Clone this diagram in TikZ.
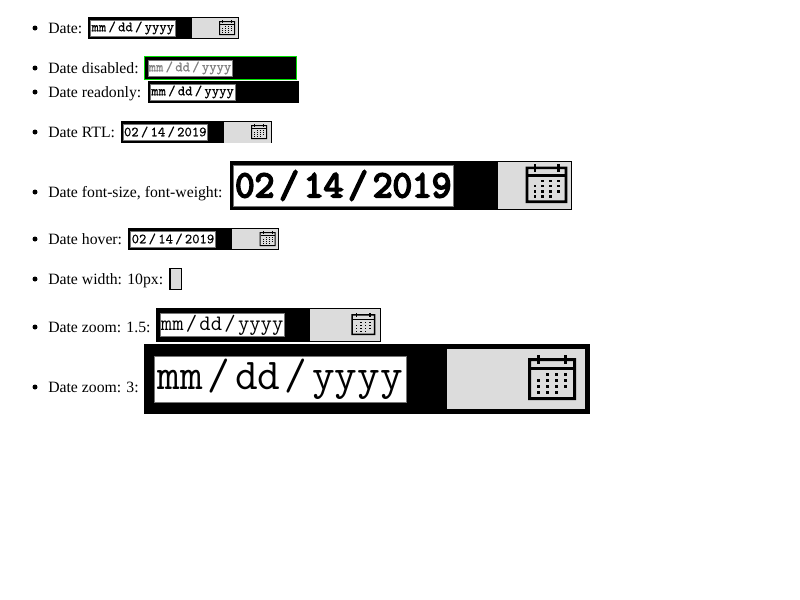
\documentclass[tikz,border=0pt]{standalone}
\usepackage{fontspec}
\setmainfont{Liberation Serif}
\newfontfamily\monoheavy[FakeBold=5]{Latin Modern Mono}
\newfontfamily\monosmall[FakeBold=0.5]{Latin Modern Mono}
\usepackage{tikz}
\usetikzlibrary{positioning}
\definecolor{btnfill}{HTML}{DCDCDC}
\definecolor{fieldline}{HTML}{767676}
\definecolor{focusring}{HTML}{00E000}
\definecolor{mutedtext}{HTML}{808080}
\def\px{0.75pt}

\begin{document}
\begin{tikzpicture}[
  x=0.75pt, y=-0.75pt,
  dim/.style 2 args={minimum width=#1*\px, minimum height=#2*\px},
  shell/.style={fill=black, inner sep=0pt, outer sep=0pt, anchor=north west},
  field/.style={fill=white, draw=fieldline, line width=0.4pt, inner sep=0pt, outer sep=0pt, anchor=north west, font=\monosmall\fontsize{10.5}{12}\selectfont, text=black},
  btn/.style={fill=btnfill, inner sep=0pt, outer sep=0pt, anchor=north west},
  lab/.style={anchor=base west, inner sep=0pt, font=\fontsize{11.8}{14}\selectfont},
  dot/.style={circle, fill=black, inner sep=0pt, minimum size=5*\px},
  calicon/.pic={
    \fill[black, even odd rule] (0,1) rectangle (16,15) (1,2) rectangle (15,14);
    \fill[black] (1,4) rectangle (15,5);
    \fill[black] (3,0) rectangle (4,3);
    \fill[black] (12,0) rectangle (13,3);
    \foreach \cx/\cy in {6/6,9/6,12/6,3/8,6/8,9/8,12/8,3/10,6/10,9/10,12/10,3/12,6/12,9/12}
      \fill[black] (\cx,\cy) rectangle ++(1,1);
  },
]
\useasboundingbox (0,0) rectangle (800,600);
% Date
\node[dot] (b1) at (35,28) {};
\node[lab] (l1) at (48,33) {Date:};
\node[shell, dim={151}{22}] (date) at (88,17) {};
\node[field, dim={85}{16}] (dateval) at (90.3,20) {mm\kern1.7pt/\kern1.7pt dd\kern1.7pt/\kern1.7pt yyyy};
\node[btn, dim={46}{20.5}] (datebtn) at (192,17.8) {};
\pic (datecal) at (219,20) {calicon};
% Disabled
\node[dot] (b2) at (35,68) {};
\node[lab] (l2) at (48,73) {Date disabled:};
\node[shell, draw=focusring, line width=\px, dim={152}{23}] (dis) at (144.8,56.8) {};
\node[field, text=mutedtext, dim={84}{16}] (disval) at (148,60) {mm\kern1.7pt/\kern1.7pt dd\kern1.7pt/\kern1.7pt yyyy};
% Readonly
\node[dot] (b3) at (35,92) {};
\node[lab] (l3) at (48,97) {Date readonly:};
\node[shell, dim={151}{22}] (ro) at (148,81) {};
\node[field, dim={84.5}{16}] (roval) at (150.3,84) {mm\kern1.7pt/\kern1.7pt dd\kern1.7pt/\kern1.7pt yyyy};
% RTL
\node[dot] (b4) at (35,132) {};
\node[lab] (l4) at (48,137) {Date RTL:};
\node[shell, dim={151}{22}] (rtl) at (121,121) {};
\node[field, dim={84}{16}] (rtlval) at (123.3,124) {02\kern1.7pt/\kern1.7pt 14\kern1.7pt/\kern1.7pt 2019};
\node[btn, dim={47.2}{20.5}] (rtlbtn) at (223.7,122) {};
\pic (rtlcal) at (251,124) {calicon};
% font-size, font-weight
\node[dot] (b5) at (35,192) {};
\node[lab] (l5) at (48,197) {Date font-size, font-weight:};
\node[shell, dim={342}{49}] (big) at (230,161) {};
\node[field, dim={220.5}{41}, font=\monoheavy\fontsize{28.6}{30}\selectfont] (bigval) at (233,165) {02\kern3.75pt/\kern3.75pt 14\kern3.75pt/\kern3.75pt 2019};
\node[btn, dim={73}{47.6}] (bigbtn) at (498,161.7) {};
\pic[scale=2.6] (bigcal) at (525.7,164) {calicon};
% Hover
\node[dot] (b6) at (35,239) {};
\node[lab] (l6) at (48,244) {Date hover:};
\node[shell, dim={151}{22}] (hov) at (128.3,228) {};
\node[field, dim={84.6}{16}] (hovval) at (130.7,231) {02\kern1.7pt/\kern1.7pt 14\kern1.7pt/\kern1.7pt 2019};
\node[btn, dim={46.2}{20.5}] (hovbtn) at (232,228.8) {};
\pic (hovcal) at (259.7,231) {calicon};
% Width 10px
\node[dot] (b7) at (35,279) {};
\node[lab] (l7) at (48,284) {Date width: 10px:};
\node[shell, dim={13}{22}] (narrow) at (169,268) {};
\node[btn, dim={10.5}{20.5}] (narrowbtn) at (170.5,268.8) {};
% Zoom 1.5
\node[dot] (b8) at (35,327) {};
\node[lab] (l8) at (48,332) {Date zoom: 1.5:};
\node[shell, dim={224.7}{34}] (zooma) at (156,308) {};
\node[field, dim={124.3}{23}, font=\ttfamily\fontsize{16.5}{18}\selectfont] (zoomaval) at (160,313.7) {\raisebox{-1.2pt}{mm\kern1.7pt/\kern1.7pt dd\kern1.7pt/\kern1.7pt yyyy}};
\node[btn, dim={69.5}{31.7}] (zoomabtn) at (310,309) {};
\pic[scale=1.5] (zoomacal) at (351.3,312.7) {calicon};
% Zoom 3
\node[dot] (b9) at (35,387) {};
\node[lab] (l9) at (48,392) {Date zoom: 3:};
\node[shell, dim={446}{69.7}] (zoomb) at (144,344) {};
\node[field, dim={252.7}{46.3}, font=\ttfamily\fontsize{33}{36}\selectfont] (zoombval) at (154,356) {\raisebox{-1.5pt}{mm\kern3.4pt/\kern3.4pt dd\kern3.4pt/\kern3.4pt yyyy}};
\node[btn, dim={138}{59.7}] (zoombbtn) at (447,349) {};
\pic[scale=3] (zoombcal) at (528,355) {calicon};
\end{tikzpicture}
\end{document}
